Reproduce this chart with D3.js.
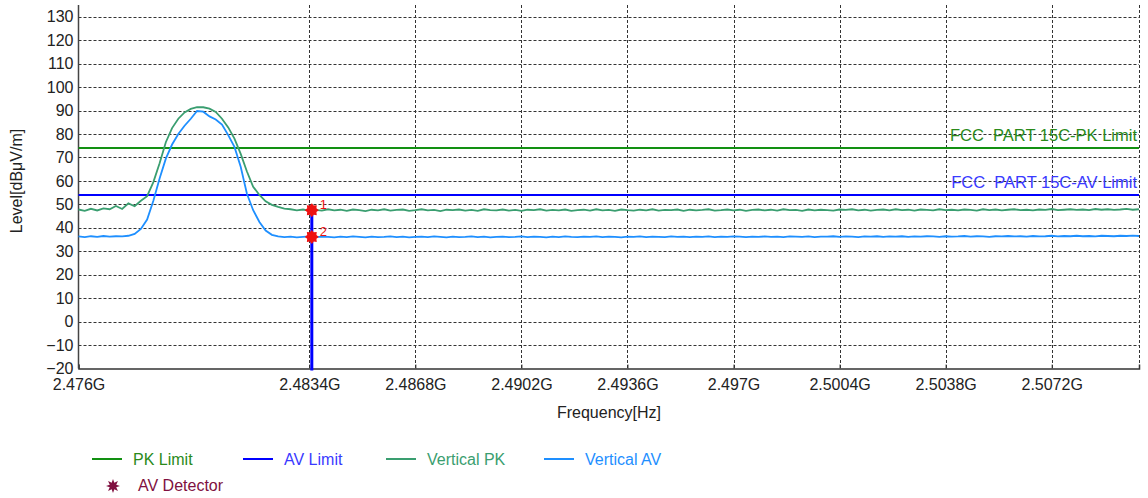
<!DOCTYPE html>
<meta charset="utf-8">
<script src="https://d3js.org/d3.v7.min.js"></script>
<style>
  body { margin: 0; background: #fff; }
  text { font-family: "Liberation Sans", Arial, sans-serif; }
</style>
<div id="chart"></div>
<script>
// sweep: 2476.0 MHz to 2510.0 MHz, one reading every 0.2 MHz
var sweepStart = 2476.0, sweepStep = 0.2;

var verticalPK = [
  47.8, 47.2, 48.1, 47.4, 48.3, 47.9, 49.3, 48.0, 50.4, 49.2,
  51.5, 53.5, 59.5, 67.5, 76.5, 82.5, 86.5, 89.2, 90.7, 91.4,
  91.4, 90.8, 89.4, 86.5, 82.8, 78.0, 71.5, 64.0, 57.5, 54.0,
  51.3, 49.8, 48.9, 48.2, 47.9, 47.4, 47.8, 47.2, 47.6, 47.3,
  47.9, 47.4, 47.7, 47.2, 47.8, 47.5, 47.1, 47.7, 47.4, 47.9,
  47.3, 47.6, 47.8, 47.2, 47.5, 47.9, 47.4, 47.6, 47.1, 47.7,
  47.5, 47.8, 47.3, 47.6, 47.2, 47.9, 47.5, 47.4, 47.8, 47.3,
  47.6, 47.2, 47.7, 47.5, 47.9, 47.3, 47.6, 47.4, 47.8, 47.2,
  47.5, 47.7, 47.3, 47.9, 47.4, 47.6, 47.2, 47.8, 47.5, 47.3,
  47.7, 47.4, 47.9, 47.3, 47.6, 47.5, 47.8, 47.2, 47.7, 47.4,
  47.6, 47.9, 47.3, 47.5, 47.8, 47.4, 47.7, 47.2, 47.6, 47.8,
  47.4, 47.7, 47.3, 47.9, 47.5, 47.6, 47.2, 47.8, 47.4, 47.7,
  47.5, 47.3, 47.8, 47.6, 47.9, 47.4, 47.7, 47.3, 47.6, 47.8,
  47.4, 47.9, 47.5, 47.7, 47.3, 47.8, 47.6, 47.4, 47.9, 47.5,
  47.7, 47.4, 47.8, 47.6, 47.3, 47.9, 47.5, 47.8, 47.4, 47.7,
  47.9, 47.5, 47.7, 47.4, 47.8, 47.6, 48.0, 47.5, 47.7, 47.9,
  47.6, 47.8, 47.5, 48.0, 47.7, 47.9, 47.6, 47.8, 48.1, 47.7,
  47.9
];

var verticalAV = [
  36.3, 36.0, 36.4, 36.1, 36.5, 36.2, 36.4, 36.3, 36.6, 37.4,
  39.5, 43.5, 51.5, 61.0, 69.5, 75.5, 80.0, 83.5, 86.5, 89.8,
  89.5, 87.5, 86.2, 84.0, 79.5, 74.5, 66.0, 54.5, 47.5, 42.5,
  38.8, 37.0, 36.3, 36.0, 36.2, 35.9, 36.1, 36.3, 36.0, 36.2,
  36.1, 35.9, 36.2, 36.0, 36.3, 36.1, 35.9, 36.2, 36.0, 36.1,
  36.3, 36.0, 36.2, 35.9, 36.1, 36.2, 36.0, 36.3, 36.1, 35.9,
  36.2, 36.0, 36.1, 36.3, 36.0, 36.2, 35.9, 36.1, 36.2, 36.0,
  36.1, 36.3, 36.0, 36.2, 36.1, 35.9, 36.2, 36.0, 36.3, 36.1,
  36.0, 36.2, 36.1, 36.3, 36.0, 36.2, 36.1, 35.9, 36.2, 36.1,
  36.3, 36.0, 36.2, 36.1, 36.0, 36.3, 36.1, 36.2, 36.0, 36.2,
  36.1, 36.3, 36.0, 36.2, 36.1, 36.3, 36.2, 36.0, 36.2, 36.1,
  36.3, 36.1, 36.2, 36.0, 36.3, 36.2, 36.1, 36.3, 36.0, 36.2,
  36.2, 36.4, 36.1, 36.3, 36.2, 36.0, 36.3, 36.2, 36.4, 36.1,
  36.3, 36.2, 36.4, 36.1, 36.3, 36.2, 36.4, 36.3, 36.1, 36.4,
  36.2, 36.3, 36.5, 36.2, 36.4, 36.3, 36.1, 36.4, 36.3, 36.5,
  36.3, 36.4, 36.2, 36.5, 36.3, 36.4, 36.6, 36.3, 36.5, 36.4,
  36.6, 36.4, 36.5, 36.3, 36.6, 36.5, 36.4, 36.6, 36.5, 36.7,
  36.5
];

var pkLimit = 74, avLimit = 54;
var pkLimitLabel = "FCC  PART 15C-PK Limit";
var avLimitLabel = "FCC  PART 15C-AV Limit";

var markerFreq = [2483.48, 2483.48];
var markerLevel = [47.5, 36.1];
var markerNames = ["1", "2"];

var xTickFreqs = [2476, 2483.4, 2486.8, 2490.2, 2493.6, 2497, 2500.4, 2503.8, 2507.2];
var xTickLabels = ["2.476G", "2.4834G", "2.4868G", "2.4902G", "2.4936G", "2.497G", "2.5004G", "2.5038G", "2.5072G"];
var yTicks = [-20, -10, 0, 10, 20, 30, 40, 50, 60, 70, 80, 90, 100, 110, 120, 130];

var colors = {
  pkLimit: "#129012",
  avLimit: "#0000ff",
  vPK: "#3a9e70",
  vAV: "#1e8fff",
  det: "#801040",
  marker: "#ee1111"
};

var width = 1148, height = 498;
var plotLeft = 78.5, plotRight = 1139, plotTop = 5, plotBottom = 368.5;

var svg = d3.select("#chart").append("svg")
  .attr("width", width)
  .attr("height", height);

var x = d3.scaleLinear().domain([2476, 2510]).range([plotLeft, plotRight]);
var y = d3.scaleLinear().domain([-20, 135]).range([plotBottom, plotTop]);

var pkData = verticalPK.map(function(v, i) { return [sweepStart + i * sweepStep, v]; });
var avData = verticalAV.map(function(v, i) { return [sweepStart + i * sweepStep, v]; });

// grid
var grid = svg.append("g").attr("stroke", "#333").attr("stroke-width", 1).attr("stroke-dasharray", "3,2");
grid.selectAll(".hg")
  .data(yTicks.filter(function(d) { return d > -20; }))
  .enter().append("line")
  .attr("x1", plotLeft).attr("x2", plotRight)
  .attr("y1", function(d) { return Math.round(y(d)) + 0.5; })
  .attr("y2", function(d) { return Math.round(y(d)) + 0.5; });
grid.selectAll(".vg")
  .data(xTickFreqs.slice(1).concat([2510]))
  .enter().append("line")
  .attr("y1", plotTop).attr("y2", plotBottom)
  .attr("x1", function(d) { return Math.round(x(d)) + 0.5; })
  .attr("x2", function(d) { return Math.round(x(d)) + 0.5; });

// axes
var xAxis = svg.append("g")
  .attr("transform", "translate(0," + plotBottom + ")")
  .call(d3.axisBottom(x).tickValues(xTickFreqs).tickSize(-4).tickPadding(10)
    .tickFormat(function(d, i) { return xTickLabels[i]; }));
xAxis.select(".domain").attr("stroke", "#333").attr("stroke-width", 1.5);
xAxis.selectAll(".tick line").attr("stroke", "#333");
xAxis.selectAll("text").attr("font-size", 16).attr("fill", "#222");

var yAxis = svg.append("g")
  .attr("transform", "translate(" + plotLeft + ",0)")
  .call(d3.axisLeft(y).tickValues(yTicks).tickSize(0).tickPadding(5));
yAxis.select(".domain").attr("stroke", "#444").attr("stroke-width", 1.5).attr("d", "M0," + plotTop + "V" + plotBottom);
yAxis.selectAll("text").attr("font-size", 16).attr("fill", "#222");

svg.append("text")
  .attr("x", 609).attr("y", 418)
  .attr("text-anchor", "middle")
  .attr("font-size", 16).attr("fill", "#222")
  .text("Frequency[Hz]");

svg.append("text")
  .attr("transform", "translate(22,181) rotate(-90)")
  .attr("text-anchor", "middle")
  .attr("font-size", 16).attr("fill", "#222")
  .text("Level[dBμV/m]");

// limits
svg.append("line")
  .attr("x1", plotLeft).attr("x2", plotRight)
  .attr("y1", y(pkLimit)).attr("y2", y(pkLimit))
  .attr("stroke", colors.pkLimit).attr("stroke-width", 2);
svg.append("line")
  .attr("x1", plotLeft).attr("x2", plotRight)
  .attr("y1", y(avLimit)).attr("y2", y(avLimit))
  .attr("stroke", colors.avLimit).attr("stroke-width", 2);
svg.append("text")
  .attr("x", plotRight - 2).attr("y", y(pkLimit) - 7)
  .attr("text-anchor", "end").attr("font-size", 16.5)
  .style("white-space", "pre")
  .attr("fill", "#2a8a1a").text(pkLimitLabel);
svg.append("text")
  .attr("x", plotRight - 2).attr("y", y(avLimit) - 7)
  .attr("text-anchor", "end").attr("font-size", 16.5)
  .style("white-space", "pre")
  .attr("fill", "#3a3aff").text(avLimitLabel);

// traces
var line = d3.line().x(function(d) { return x(d[0]); }).y(function(d) { return y(d[1]); });
svg.append("path").datum(pkData)
  .attr("d", line).attr("fill", "none")
  .attr("stroke", colors.vPK).attr("stroke-width", 1.8);
svg.append("path").datum(avData)
  .attr("d", line).attr("fill", "none")
  .attr("stroke", colors.vAV).attr("stroke-width", 1.8);

// detector line and markers
svg.append("line")
  .attr("x1", x(markerFreq[0])).attr("x2", x(markerFreq[0]))
  .attr("y1", y(markerLevel[0])).attr("y2", plotBottom + 2)
  .attr("stroke", colors.avLimit).attr("stroke-width", 3);

function burst(r1, r2, n) {
  var pts = [];
  for (var k = 0; k < n * 2; k++) {
    var a = k * Math.PI / n;
    var r = k % 2 ? r2 : r1;
    pts.push([Math.sin(a) * r, -Math.cos(a) * r]);
  }
  return "M" + pts.join("L") + "Z";
}

var markers = svg.append("g").selectAll("g")
  .data(markerFreq.map(function(f, i) { return { f: f, v: markerLevel[i], name: markerNames[i] }; }))
  .enter().append("g")
  .attr("transform", function(d) { return "translate(" + x(d.f) + "," + y(d.v) + ")"; });
markers.append("path").attr("d", burst(7, 5, 8)).attr("fill", colors.marker);
markers.append("text")
  .attr("x", 8).attr("y", -1)
  .attr("font-size", 13).attr("fill", colors.marker)
  .text(function(d) { return d.name; });

// legend
var legendItems = [
  { name: "PK Limit", color: colors.pkLimit, text: "#2a8a1a", x: 92 },
  { name: "AV Limit", color: colors.avLimit, text: "#3a3aff", x: 243 },
  { name: "Vertical PK", color: colors.vPK, text: colors.vPK, x: 386 },
  { name: "Vertical AV", color: colors.vAV, text: colors.vAV, x: 544 }
];
var legend = svg.append("g").selectAll("g")
  .data(legendItems).enter().append("g")
  .attr("transform", function(d) { return "translate(" + d.x + ",459)"; });
legend.append("line").attr("x1", 0).attr("x2", 30)
  .attr("stroke", function(d) { return d.color; }).attr("stroke-width", 2);
legend.append("text").attr("x", 41).attr("y", 6)
  .attr("font-size", 16).attr("fill", function(d) { return d.text; })
  .text(function(d) { return d.name; });

svg.append("path")
  .attr("transform", "translate(113,486)")
  .attr("d", burst(7, 3.5, 8)).attr("fill", colors.det);
svg.append("text").attr("x", 138).attr("y", 491)
  .attr("font-size", 16).attr("fill", colors.det)
  .text("AV Detector");
</script>
